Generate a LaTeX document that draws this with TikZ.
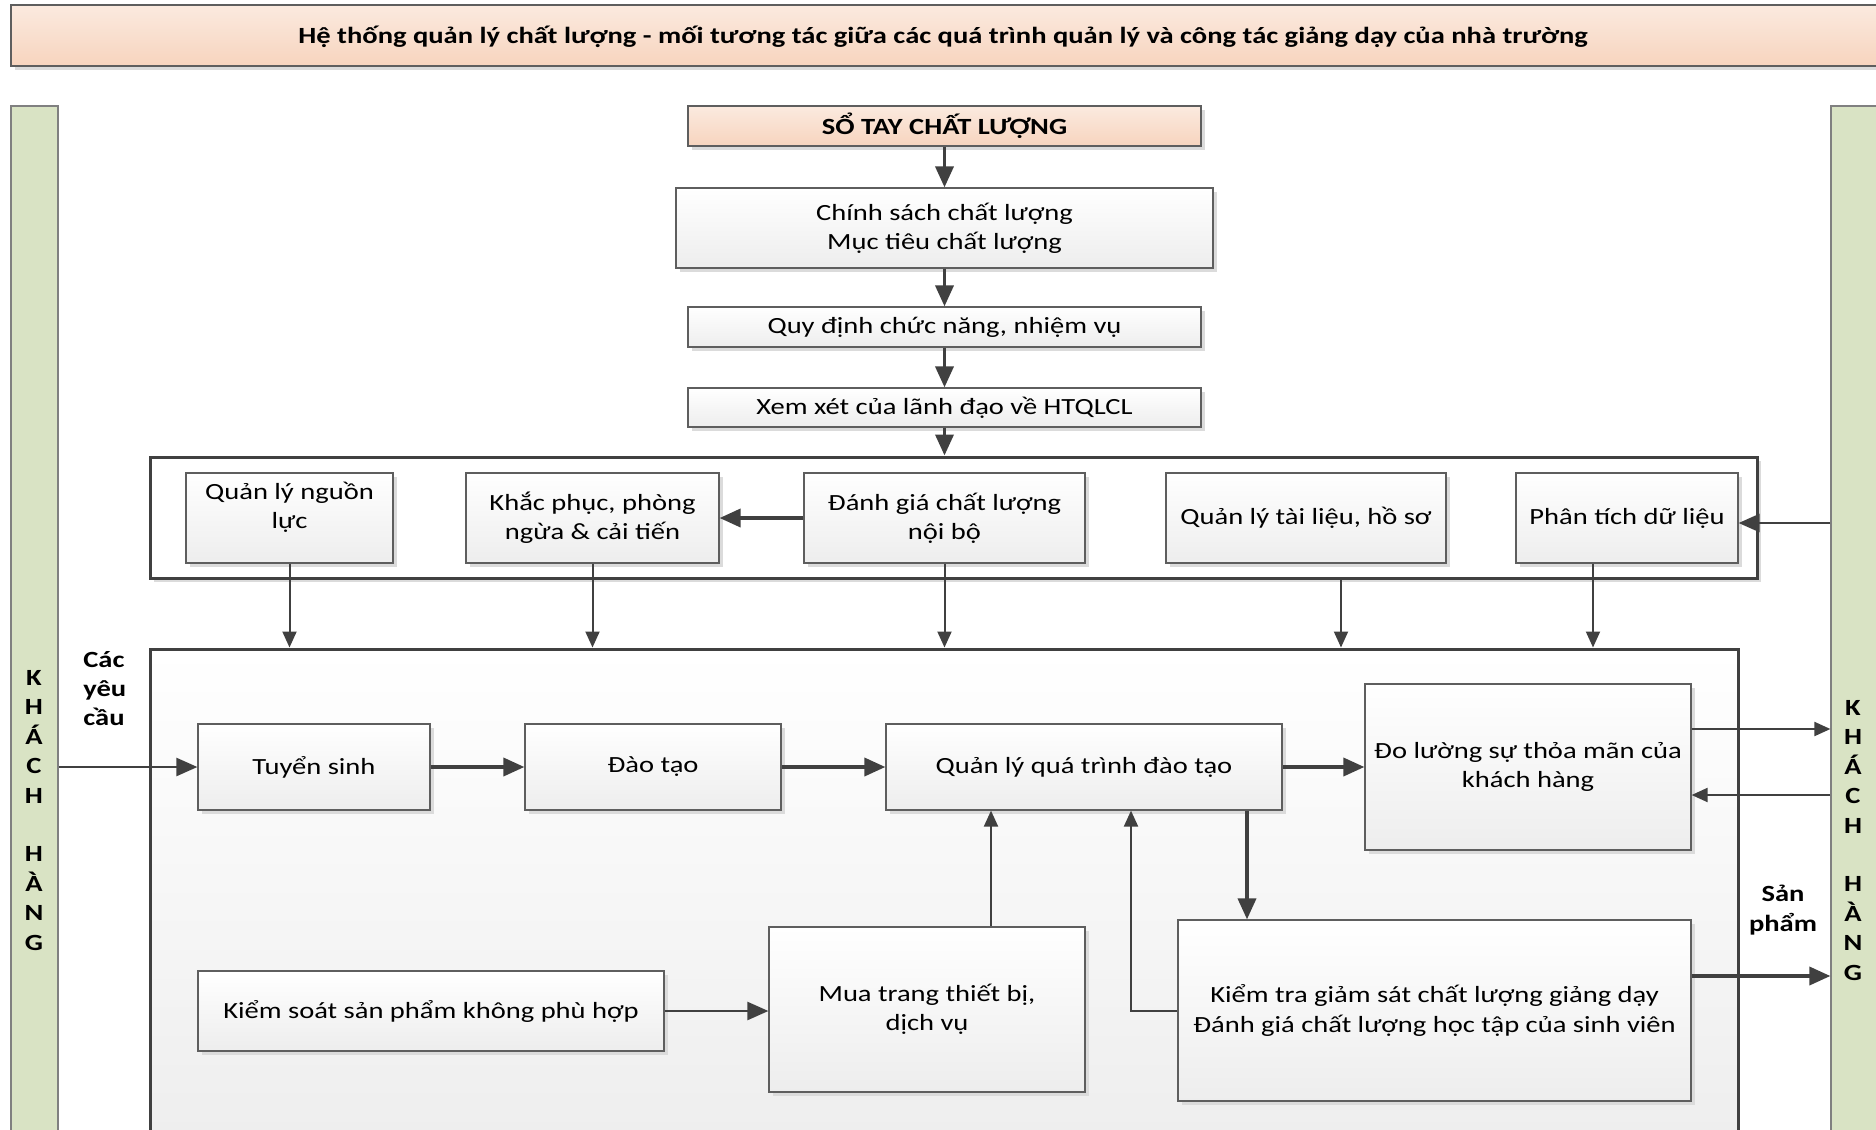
\documentclass[tikz,border=0pt]{standalone}
\usepackage{fontspec}
\setmainfont{Carlito}[FakeStretch=1.23]
\usetikzlibrary{arrows.meta,shadows}
\definecolor{ln}{HTML}{404040}
\definecolor{bd}{HTML}{5E5E5E}
\definecolor{pkt}{HTML}{FBEADF}
\definecolor{pkb}{HTML}{F7D4BE}
\definecolor{grn}{HTML}{D9E3C4}
\definecolor{cbd}{HTML}{404040}
\newcommand\fs{\fontsize{11.6pt}{14.7pt}\selectfont}
\tikzset{
 shd/.style={drop shadow={shadow xshift=2pt,shadow yshift=-2pt,fill=black!14,opacity=1}},
 box/.style={draw=bd,line width=0.6pt,top color=white,bottom color=black!7,align=center,inner sep=2pt,font=\fs,shd},
 peach/.style={draw=bd,line width=0.6pt,top color=pkt,bottom color=pkb,align=center,inner sep=2pt,font=\fs\bfseries,shd},
 cont/.style={draw=cbd,line width=1.5pt,inner sep=0pt},
 bar/.style={draw=black!50,line width=0.6pt,fill=grn,inner sep=0pt},
 lbl/.style={font=\fs\bfseries,inner sep=0pt},
 txt/.style={font=\fs,inner sep=0pt,align=center},
 arr/.style={draw=ln,line width=1pt,-{Triangle[length=8pt,width=7pt]}},
 arrB/.style={draw=ln,line width=1.2pt,-{Triangle[length=10.5pt,width=9pt]}},
 arrT/.style={draw=ln,line width=1.8pt,-{Triangle[length=10.5pt,width=9pt]}},
}
\begin{document}
\begin{tikzpicture}[x=0.5pt,y=-0.5pt]
\useasboundingbox (0,0) rectangle (1876,1130);
\clip (0,0) rectangle (1876,1130);
\fill[white] (0,0) rectangle (1876,1130);

% side bars
\node[bar,minimum width=23.5pt,minimum height=527pt] (lbar) at (34.5,633) {};
\node[bar,minimum width=34.5pt,minimum height=527pt] (rbar) at (1865.5,633) {};
\foreach \c/\i in {K/0,H/1,Á/2,C/3,H/4,H/6,À/7,N/8,G/9}{
  \node[lbl,anchor=base] (kl\i) at (34,685.5+\i*29.4) {\c};
  \node[lbl,anchor=base] (kr\i) at (1853,715.5+\i*29.4) {\c};
}

% title
\node[peach,minimum width=944.5pt,minimum height=30.5pt] (title) at (955.5,35.5) {};
\node[lbl] (titlet) at (943,37) {Hệ thống quản lý chất lượng - mối tương tác giữa các quá trình quản lý và công tác giảng dạy của nhà trường};

% top column
\node[peach,minimum width=256.5pt,minimum height=20pt] (sotay) at (944.5,126) {SỔ TAY CHẤT LƯỢNG};
\node[box,minimum width=268.5pt,minimum height=40pt] (cs) at (944.5,228) {Chính sách chất lượng\\Mục tiêu chất lượng};
\node[box,minimum width=256.5pt,minimum height=20pt] (qd) at (944.5,327) {Quy định chức năng, nhiệm vụ};
\node[box,minimum width=256.5pt,minimum height=19.5pt] (xx) at (944.5,407.5) {Xem xét của lãnh đạo về HTQLCL};

% containers
\node[cont,fill=white,shd,minimum width=803.5pt,minimum height=60.5pt] (upper) at (953.5,517.5) {};
\node[cont,top color=white,bottom color=black!7,minimum width=794pt,minimum height=255.5pt] (lower) at (944,904.5) {};

% upper row
\node[box,minimum width=103.5pt,minimum height=45pt] (qlnl) at (289.5,518) {};
\node[txt] (qlnlt) at (289.5,507) {Quản lý nguồn\\lực};
\node[box,minimum width=126.5pt,minimum height=45pt] (kp) at (592.5,518) {Khắc phục, phòng\\ngừa \& cải tiến};
\node[box,minimum width=140.5pt,minimum height=45pt] (dg) at (944.5,518) {Đánh giá chất lượng\\nội bộ};
\node[box,minimum width=140pt,minimum height=45pt] (qltl) at (1306,518) {Quản lý tài liệu, hồ sơ};
\node[box,minimum width=111pt,minimum height=45pt] (pt) at (1627,518) {Phân tích dữ liệu};

% lower boxes
\node[box,minimum width=116pt,minimum height=43pt] (ts) at (314,767) {Tuyển sinh};
\node[box,minimum width=128pt,minimum height=43pt] (dt) at (653,767) {Đào tạo};
\node[box,minimum width=198pt,minimum height=43pt] (qlqt) at (1084,767) {Quản lý quá trình đào tạo};
\node[box,minimum width=163pt,minimum height=83pt] (dl) at (1528,767) {Đo lường sự thỏa mãn của\\khách hàng};
\node[box,minimum width=233pt,minimum height=40pt] (ks) at (431,1011) {Kiểm soát sản phẩm không phù hợp};
\node[box,minimum width=158pt,minimum height=82.5pt] (mua) at (927,1009.5) {Mua trang thiết bị,\\dịch vụ};
\node[box,minimum width=256.5pt,minimum height=90.5pt] (kt) at (1434.5,1010.5) {Kiểm tra giảm sát chất lượng giảng dạy\\Đánh giá chất lượng học tập của sinh viên};

% labels
\node[lbl,align=left,anchor=west] (cyc) at (83,688.5) {Các\\yêu\\cầu};
\node[lbl,align=center] (sp) at (1783,910) {Sản\\phẩm};

% arrows: top column
\draw[arrT] (sotay) -- (cs);
\draw[arrT] (cs) -- (qd);
\draw[arrT] (qd) -- (xx);
\draw[arrT] (xx.south) -- (xx.south |- upper.north);
\draw[arrT] (dg.west) -- (kp.east);
\coordinate (pte) at ([yshift=-2.5pt]pt.east);
\draw[arrB] (rbar.west |- pte) -- (pte);

% arrows down between containers
\draw[arr] (qlnl.south) -- (qlnl.south |- lower.north);
\draw[arr] (kp.south) -- (kp.south |- lower.north);
\draw[arr] (dg.south) -- (dg.south |- lower.north);
\coordinate (c1) at (1341,578);
\draw[arr] (c1) -- (c1 |- lower.north);
\coordinate (c2) at ([xshift=-17pt]pt.south);
\draw[arr] (c2) -- (c2 |- lower.north);

% main flow
\draw[arrB] (lbar.east |- ts.west) -- (ts.west);
\draw[arrT] (ts.east) -- (dt.west);
\draw[arrT] (dt.east) -- (qlqt.west);
\draw[arrT] (qlqt.east) -- (dl.west);
\coordinate (dlo) at ([yshift=19pt]dl.east);
\draw[arr] (dlo) -- (dlo -| rbar.west);
\coordinate (dli) at ([yshift=-14pt]dl.east);
\draw[arr] (dli -| rbar.west) -- (dli);
\coordinate (mup) at ([xshift=32pt]mua.north);
\draw[arr] (mup) -- (mup |- qlqt.south);
\coordinate (ktl) at ([xshift=23.5pt]qlqt.south);
\draw[arr] (kt.west) -| (ktl);
\coordinate (qkt) at ([xshift=81.5pt]qlqt.south);
\draw[arrT] (qkt) -- (qkt |- kt.north);
\draw[arrB] (ks.east) -- (ks.east -| mua.west);
\coordinate (kto) at ([yshift=17.25pt]kt.east);
\draw[arrT] (kto) -- (kto -| rbar.west);
\end{tikzpicture}
\end{document}
